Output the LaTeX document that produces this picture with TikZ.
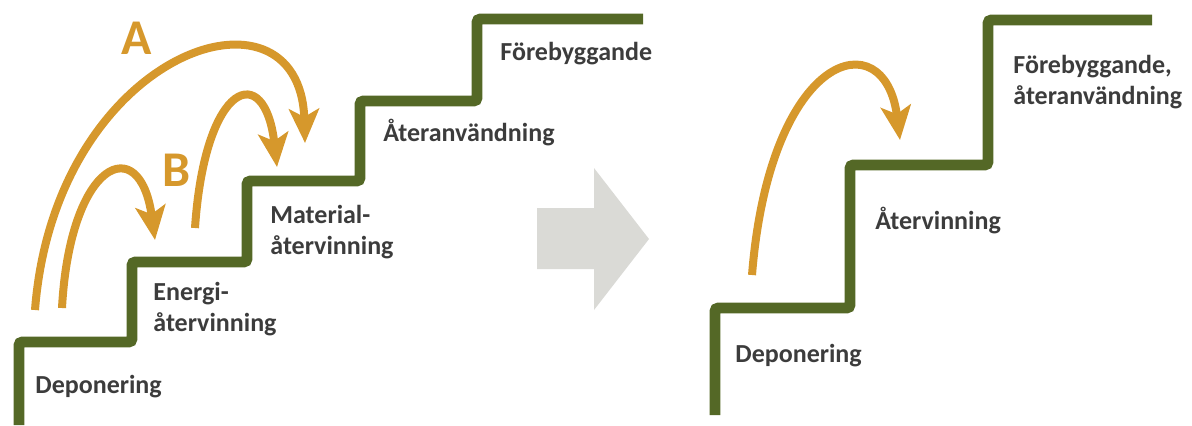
\documentclass[tikz,border=0pt]{standalone}
\usepackage{fontspec}
\setmainfont{Carlito}
\usetikzlibrary{arrows.meta}
\definecolor{trappgron}{RGB}{84,104,38}
\definecolor{pilorange}{RGB}{214,152,44}
\definecolor{pilgra}{RGB}{218,218,214}
\definecolor{textgra}{RGB}{60,60,60}

\begin{document}
\begin{tikzpicture}[x=0.5pt,y=-0.5pt,
	trappa/.style={draw=trappgron,line width=5.3pt,rounded corners=1.5pt},
	hopp/.style={draw=pilorange,line width=4pt,-{Stealth[length=17pt,width=15pt,inset=4pt]}},
	etikett/.style={anchor=west,inner sep=0pt,text=textgra,align=left,font=\bfseries\fontsize{13}{15.5}\selectfont},
	bokstav/.style={inner sep=0pt,text=pilorange,font=\bfseries\fontsize{25}{25}\selectfont}]
	\useasboundingbox (0,0) rectangle (1192,425);
		% trappan före
		\draw [trappa] (19,425) -- (19,342) -- (132,342) -- (132,262) -- (247,262) -- (247,181) -- (360,181) -- (360,101) -- (477,101) -- (477,19) -- (643,19);
		\node [etikett] (dep1) at (35,387) {Deponering};
		\node [etikett] (energi) at (153,309) {Energi-\\återvinning};
		\node [etikett] (material) at (270,232) {Material-\\återvinning};
		\node [etikett] (ateranv1) at (383,133) {Återanvändning};
		\node [etikett] (foreb1) at (500,54) {Förebyggande};
		% hoppen
		\coordinate (a0) at (35,310);
		\coordinate (a1) at (305,143);
		\coordinate (b0) at (62,308);
		\coordinate (b1) at (155,240);
		\coordinate (c0) at (195,228);
		\coordinate (c1) at (277,167);
		\draw [hopp] (a0) .. controls (55,50) and (300,-30) .. (a1);
		\draw [hopp] (b0) .. controls (70,160) and (140,130) .. (b1);
		\draw [hopp] (c0) .. controls (205,80) and (265,60) .. (c1);
		\node [bokstav] (A) at (137,38) {A};
		\node [bokstav] (B) at (177,170) {B};
		% pilen
		\fill [pilgra] (537,208) -- (594,208) -- (594,168) -- (649,239) -- (594,310) -- (594,269) -- (537,269) -- cycle;
		% trappan efter
		\draw [trappa] (715,415) -- (715,308) -- (850,308) -- (850,165) -- (988,165) -- (988,20) -- (1152,20);
		\node [etikett] (dep2) at (735,356) {Deponering};
		\node [etikett] (atervinn) at (875,221) {Återvinning};
		\node [etikett] (foreb2) at (1013,82) {Förebyggande,\\återanvändning};
		\coordinate (d0) at (752,275);
		\coordinate (d1) at (900,140);
		\draw [hopp] (d0) .. controls (770,50) and (885,20) .. (d1);
\end{tikzpicture}
\end{document}
